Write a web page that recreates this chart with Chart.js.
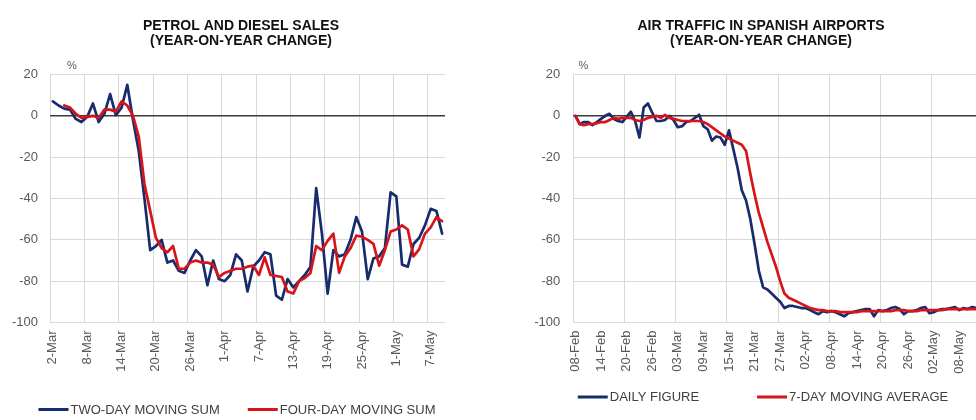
<!DOCTYPE html>
<html>
<head>
<meta charset="utf-8">
<script src="https://cdn.jsdelivr.net/npm/chart.js@4.4.1/dist/chart.umd.min.js"></script>
<style>
	body { margin: 0; width: 976px; height: 420px; overflow: hidden; background: #fff; }
	#fuel { position: absolute; left: 0; top: 0; }
	#air { position: absolute; left: 522px; top: 0; }
</style>
</head>
<body>
<canvas id="fuel" width="482" height="420"></canvas>
<canvas id="air" width="478" height="420"></canvas>
<script>
// petrol and diesel sales, daily from 2-Mar
var fuelTicks = ['2-Mar', '8-Mar', '14-Mar', '20-Mar', '26-Mar', '1-Apr', '7-Apr', '13-Apr', '19-Apr', '25-Apr', '1-May', '7-May'];
var fuelTwoDay = [7, 5, 3.5, 3, -1.5, -3, -0.5, 6, -3, 1, 10.5, 0.3, 4, 15, -2,
	-17, -40, -65, -63, -60, -71, -70, -75, -76, -70,
	-65, -68, -82, -70, -79, -80, -77, -67, -70, -85,
	-73, -70, -66, -67, -87, -89, -79, -83, -80, -77,
	-73, -35, -57, -86, -65, -68, -67, -60, -49, -56,
	-79, -69, -68, -64, -37, -39, -72, -73, -62, -59,
	-53, -45, -46, -57];
var fuelFourDay = [null, null, 5, 4, 1, -1, -0.5, 0, -1, 3, 3, 2, 7, 5, 0,
	-10, -33, -46, -59, -64, -66, -63, -74, -74, -71,
	-70, -71, -71, -72, -78, -76, -75, -74, -74, -73,
	-72.5, -77, -68.5, -77, -77.5, -78, -85, -86, -80, -78.5,
	-76, -63, -65, -60.5, -57, -76, -68, -64, -58, -58.5,
	-60, -62, -72.5, -65, -56, -55, -53, -55, -68, -64.5,
	-57, -54, -49, -51];

// air traffic, daily from 08-Feb
var airTicks = ['08-Feb', '14-Feb', '20-Feb', '26-Feb', '03-Mar', '09-Mar', '15-Mar', '21-Mar', '27-Mar', '02-Apr', '08-Apr', '14-Apr', '20-Apr', '26-Apr', '02-May', '08-May'];
var airDaily = [0, -4, -3, -3, -4.5, -3, -1.5, 0, 1, -1.5,
	-2.5, -3, -0.5, 2, -2.5, -10.5, 4, 6, 1.5, -2.5,
	-2.5, -2, 0, -2, -5.5, -5, -3, -2.5, -1, 0.5,
	-5, -6.5, -12, -10, -10.5, -14, -7, -16, -25, -36,
	-41, -50, -62, -75, -83, -84, -86, -88, -90, -93,
	-92, -92, -92.5, -93, -93, -94, -95, -96, -94.5, -95,
	-94.5, -95, -96, -97, -95.5, -95, -94.5, -94, -93.5, -93.5,
	-97, -94, -94.5, -94, -93, -92.5, -93.5, -96, -94.5, -94.5,
	-94, -93, -92.5, -95.5, -95, -94, -93.5, -93.5, -93, -92.5,
	-94, -93, -93.5, -92.5, -93];
var airWeekAvg = [0, -4, -4.5, -4, -4, -3.5, -3, -3, -2, -1,
	-1.5, -1, -1, -1, -2, -2.5, -2, -1, -0.5, 0,
	-1, 0.5, -1, -1.5, -2, -2.5, -2.5, -2.5, -2.5, -2.5,
	-3, -4, -5.5, -7, -8.5, -10, -11, -12, -13, -14,
	-17, -28, -38, -47, -54, -61, -67, -73, -80, -86,
	-88, -89, -90, -91, -92, -93, -93.5, -94, -94, -94.5,
	-94.5, -94.5, -95, -95, -95, -95, -95, -94.5, -94.5, -94.5,
	-94.5, -94.5, -94.5, -94.5, -94.5, -94, -94, -94, -94.5, -94.5,
	-94.5, -94, -94, -94, -94, -94, -94, -93.5, -93.5, -93.5,
	-93.5, -93.5, -93.5, -93.5, -93.5];

var yTicks = [20, 0, -20, -40, -60, -80, -100];

var NAVY = '#172c6c';
var RED = '#d7141a';
var FONT = '"Liberation Sans", Arial, sans-serif';

// one category per day (2020)
function makeDays(month, day, count, pad) {
	var names = ['Jan', 'Feb', 'Mar', 'Apr', 'May', 'Jun'];
	var out = [];
	for (var i = 0; i < count; i++) {
		var d = new Date(2020, month, day + i);
		var n = d.getDate();
		out.push((pad && n < 10 ? '0' + n : '' + n) + '-' + names[d.getMonth()]);
	}
	return out;
}

var percentSign = {
	id: 'percentSign',
	afterDraw: function(chart, args, opts) {
		var ctx = chart.ctx;
		ctx.save();
		ctx.font = '11px ' + FONT;
		ctx.fillStyle = '#595959';
		ctx.textAlign = 'center';
		ctx.textBaseline = 'middle';
		ctx.fillText('%', chart.chartArea.left + opts.dx, chart.chartArea.top - 9);
		ctx.restore();
	}
};

// legend drawn as short lines + labels, centred under the chart
var lineLegend = {
	id: 'lineLegend',
	afterDraw: function(chart, args, opts) {
		var ctx = chart.ctx;
		var sets = chart.data.datasets;
		ctx.save();
		ctx.font = '13px ' + FONT;
		ctx.textBaseline = 'middle';
		ctx.textAlign = 'left';
		var widths = sets.map(function(ds) { return 32 + ctx.measureText(ds.label).width; });
		var total = widths.reduce(function(a, b) { return a + b; }, 0) + opts.gap * (sets.length - 1);
		var x = chart.width / 2 + opts.dx - total / 2;
		sets.forEach(function(ds, i) {
			ctx.strokeStyle = ds.borderColor;
			ctx.lineWidth = 3;
			ctx.beginPath();
			ctx.moveTo(x, opts.y);
			ctx.lineTo(x + 30, opts.y);
			ctx.stroke();
			ctx.fillStyle = '#404040';
			ctx.fillText(ds.label, x + 32, opts.y + 0.5);
			x += widths[i] + opts.gap;
		});
		ctx.restore();
	}
};

function buildChart(id, cfg) {
	var n = cfg.labels.length;
	return new Chart(document.getElementById(id), {
		type: 'line',
		data: {
			labels: cfg.labels,
			datasets: [
				{ label: cfg.names[0], data: cfg.blue, borderColor: NAVY, backgroundColor: NAVY, borderWidth: 2.7, order: 2 },
				{ label: cfg.names[1], data: cfg.red, borderColor: RED, backgroundColor: RED, borderWidth: 2.7, order: 1 }
			]
		},
		plugins: [percentSign, lineLegend],
		options: {
			responsive: false,
			animation: false,
			events: [],
			elements: {
				point: { radius: 0 },
				line: { tension: 0, borderJoinStyle: 'round', borderCapStyle: 'round' }
			},
			scales: {
				x: {
					type: 'category',
					offset: true,
					border: { display: false },
					grid: {
						offset: true,
						drawTicks: false,
						color: function(c) {
							if (c.index % cfg.gridEvery === 0 || (cfg.edge && c.index === n)) return '#d9d9d9';
							return 'rgba(0,0,0,0)';
						}
					},
					ticks: {
						autoSkip: false,
						minRotation: 90,
						maxRotation: 90,
						padding: 8,
						color: '#595959',
						font: { family: FONT, size: 13 },
						callback: function(v, i) {
							return i % 6 === 0 && cfg.ticks[i / 6] ? cfg.ticks[i / 6] : '';
						}
					},
					afterFit: function(s) { s.height = 97.5; }
				},
				y: {
					min: -100,
					max: 20,
					border: { display: false },
					afterBuildTicks: function(s) { s.ticks = yTicks.map(function(v) { return { value: v }; }); },
					grid: {
						drawTicks: false,
						color: function(c) { return c.tick && c.tick.value === 0 ? '#3a3a3a' : '#d9d9d9'; },
						lineWidth: function(c) { return c.tick && c.tick.value === 0 ? 1.5 : 1; }
					},
					ticks: {
						padding: cfg.yPad,
						color: '#595959',
						font: { family: FONT, size: 13 }
					},
					afterFit: function(s) { s.width = cfg.yWidth; }
				},
				y2: {
					position: 'right',
					border: { display: false },
					grid: { display: false },
					ticks: { display: false },
					afterFit: function(s) { s.width = cfg.rightGap; }
				}
			},
			plugins: {
				percentSign: { dx: cfg.pctDx },
				lineLegend: { y: cfg.legendY, gap: cfg.legendGap, dx: cfg.legendDx },
				tooltip: { enabled: false },
				legend: { display: false },
				title: {
					display: true,
					text: cfg.title,
					color: '#111',
					font: { family: FONT, size: 14, weight: 'bold', lineHeight: 1.1 },
					padding: { top: 18.3, bottom: 25.4 }
				}
			}
		}
	});
}

buildChart('fuel', {
	labels: makeDays(2, 2, fuelTwoDay.length, false),
	ticks: fuelTicks,
	blue: fuelTwoDay,
	red: fuelFourDay,
	names: ['TWO-DAY MOVING SUM', 'FOUR-DAY MOVING SUM'],
	title: ['PETROL AND DIESEL SALES', '(YEAR-ON-YEAR CHANGE)'],
	gridEvery: 6,
	edge: true,
	yWidth: 50,
	yPad: 12,
	rightGap: 37,
	pctDx: 22,
	legendY: 409.5,
	legendGap: 28,
	legendDx: -4
});

buildChart('air', {
	labels: makeDays(1, 8, airDaily.length, true),
	ticks: airTicks,
	blue: airDaily,
	red: airWeekAvg,
	names: ['DAILY FIGURE', '7-DAY MOVING AVERAGE'],
	title: ['AIR TRAFFIC IN SPANISH AIRPORTS', '(YEAR-ON-YEAR CHANGE)'],
	gridEvery: 12,
	edge: false,
	yWidth: 51.3,
	yPad: 13,
	rightGap: 4,
	pctDx: 10,
	legendY: 397,
	legendGap: 58,
	legendDx: 2
});
</script>
</body>
</html>
